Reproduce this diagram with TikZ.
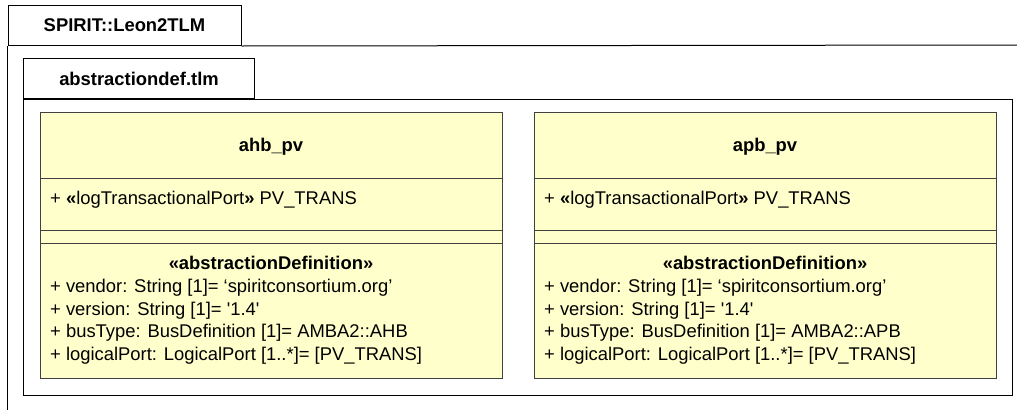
\documentclass[tikz,border=0pt]{standalone}
\usepackage{fontspec}
\setmainfont{Liberation Sans}[Ligatures=TeXOff]
\usetikzlibrary{calc}
\definecolor{umlyellow}{HTML}{FFFFCC}
\definecolor{umlline}{HTML}{404040}

\begin{document}
\begin{tikzpicture}[
  x=1pt, y=-1pt,
  font=\fontsize{18.4}{22.5}\selectfont,
  tab/.style={draw, line width=1pt, anchor=north west, inner sep=0pt, minimum height=40pt, font=\fontsize{18.4}{22.5}\selectfont\bfseries},
  frame/.style={draw, line width=1pt},
  classbox/.style={draw=umlline, fill=umlyellow, line width=1pt, anchor=north west, minimum width=462pt, minimum height=266pt, inner sep=0pt},
  divider/.style={draw=umlline, line width=1pt},
  cname/.style={font=\fontsize{18.4}{22.5}\selectfont\bfseries, anchor=base, inner sep=0pt},
  attr/.style={anchor=base west, inner sep=0pt}
]
\useasboundingbox (0,0) rectangle (1017,410);

% package SPIRIT::Leon2TLM (cut at right and bottom)
\node[tab, minimum width=233pt] (pkgtab) at (7.5,5) {SPIRIT::Leon2TLM};
\coordinate (pkgright) at (1017,45);
\coordinate (pkgbottom) at (7.5,410);
\draw[frame] (pkgtab.south west) -- (pkgbottom);
\draw[frame] (pkgtab.south east) -- (pkgright);

% package abstractiondef.tlm
\node[tab, minimum width=231pt] (abstab) at (23,58) {abstractiondef.tlm};
\coordinate (abscorner) at (1012,395.5);
\draw[frame] (abstab.south west) rectangle (abscorner);

% the two classes
\foreach \n/\x/\t/\bus in {ahb/40/ahb\_pv/AHB, apb/534/apb\_pv/APB} {
  \node[classbox] (\n) at (\x,112) {};
  \draw[divider] ($(\n.north west)+(0,66)$) -- ($(\n.north east)+(0,66)$);
  \draw[divider] ($(\n.north west)+(0,118)$) -- ($(\n.north east)+(0,118)$);
  \draw[divider] ($(\n.north west)+(0,131)$) -- ($(\n.north east)+(0,131)$);
  \node[cname] (\n-name) at ({\x+231},151.5) {\t};
  \node[attr] (\n-port) at ({\x+10},204.5) {+ \textbf{«}logTransactionalPort\textbf{»} PV\_TRANS};
  \node[cname] (\n-stereo) at ({\x+231},269.5) {«abstractionDefinition»};
  \foreach \txt [count=\i from 0] in {{+ vendor: String [1]= ‘spiritconsortium.org’},
      {+ version: String [1]= '1.4'},
      {+ busType: BusDefinition [1]= AMBA2::\bus},
      {+ logicalPort: LogicalPort [1..*]= [PV\_TRANS]}}
    \node[attr] (\n-attr\i) at ({\x+10},{292.5+22.5*\i}) {\txt};
}
\end{tikzpicture}
\end{document}
